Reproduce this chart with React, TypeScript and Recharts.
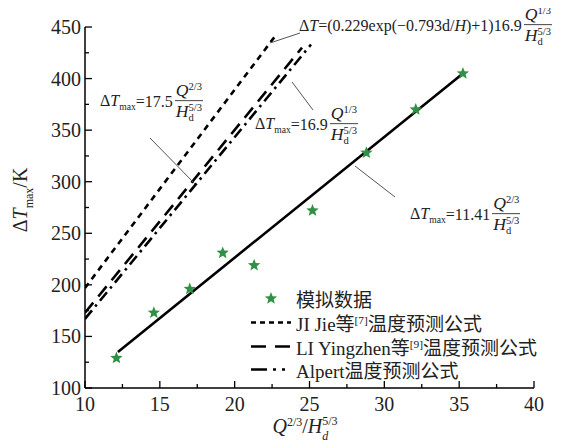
import React from 'react';
import { ComposedChart, Line, Scatter, XAxis, YAxis } from 'recharts';

// simulated points
const simX = [12.1, 14.6, 17.0, 19.2, 21.3, 25.2, 28.8, 32.1, 35.25];
const simY = [129, 173, 196, 231, 219, 272, 328, 370, 405];

// fitted line 11.41 * Q^(2/3)/Hd^(5/3)
const fitX = [12.2, 35.25];
const fitY = [135, 405];

// JI Jie
const jiX = [10, 22.8];
const jiY = [197, 443];

// LI Yingzhen
const liX = [10, 24.5];
const liY = [173, 430];

// Alpert
const alpertX = [10, 25.1];
const alpertY = [167, 433];

const xTicks = [10, 12.5, 15, 17.5, 20, 22.5, 25, 27.5, 30, 32.5, 35, 37.5, 40];
const yTicks = [100, 125, 150, 175, 200, 225, 250, 275, 300, 325, 350, 375, 400, 425, 450];

const SERIF = "'Liberation Serif', 'Times New Roman', 'Noto Sans CJK SC', serif";
const GREEN = '#2f9046';

const toRows = (xs: number[], ys: number[]) => xs.map((x, i) => ({ x, y: ys[i] }));

const starPoints = (cx: number, cy: number, ro: number, ri: number) => {
  const pts: string[] = [];
  for (let i = 0; i < 10; i++) {
    const r = i % 2 === 0 ? ro : ri;
    const a = -Math.PI / 2 + (i * Math.PI) / 5;
    pts.push(`${cx + r * Math.cos(a)},${cy + r * Math.sin(a)}`);
  }
  return pts.join(' ');
};

const Star = (props: any) => {
  const { cx, cy } = props;
  return <polygon points={starPoints(cx, cy, 6.5, 2.8)} fill={GREEN} />;
};

const XTick = (props: any) => {
  const { x, y, payload } = props;
  const major = payload.value % 5 === 0;
  return (
    <g>
      <line x1={x} y1={y} x2={x} y2={y - (major ? 7 : 4)} stroke="#000" strokeWidth={1.3} />
      {major && (
        <text x={x} y={y + 23} textAnchor="middle" fontFamily={SERIF} fontSize={20} fill="#222">
          {payload.value}
        </text>
      )}
    </g>
  );
};

const YTick = (props: any) => {
  const { x, y, payload } = props;
  const major = payload.value % 50 === 0;
  return (
    <g>
      <line x1={x} y1={y} x2={x + (major ? 7 : 4)} y2={y} stroke="#000" strokeWidth={1.3} />
      {major && (
        <text x={x - 4} y={y + 7} textAnchor="end" fontFamily={SERIF} fontSize={20} fill="#222">
          {payload.value}
        </text>
      )}
    </g>
  );
};

const Sup = ({ children }: { children: React.ReactNode }) => (
  <span style={{ fontSize: '0.6em', verticalAlign: '0.55em', lineHeight: 0 }}>{children}</span>
);

const Hd = ({ p }: { p: string }) => (
  <span style={{ whiteSpace: 'nowrap' }}>
    <i>H</i>
    <span style={{ display: 'inline-flex', flexDirection: 'column', fontSize: '0.6em', lineHeight: 1, verticalAlign: 'middle' }}>
      <span>{p}</span>
      <span>d</span>
    </span>
  </span>
);

const Frac = ({ p }: { p: string }) => (
  <span style={{ display: 'inline-flex', flexDirection: 'column', alignItems: 'center', margin: '0 2px', fontSize: '1.1em' }}>
    <span style={{ borderBottom: '1px solid #444', padding: '0 1px', lineHeight: 1.15 }}>
      <i>Q</i>
      <Sup>{p}</Sup>
    </span>
    <span style={{ lineHeight: 1.2 }}>
      <Hd p="5/3" />
    </span>
  </span>
);

const DTmax = () => (
  <span>
    Δ<i>T</i>
    <span style={{ fontSize: '0.6em', verticalAlign: '-0.45em' }}>max</span>
  </span>
);

const Formula = ({ left, top, size, children }: { left: number; top: number; size: number; children: React.ReactNode }) => (
  <div
    style={{
      position: 'absolute',
      left,
      top,
      transform: 'translateY(-50%)',
      display: 'flex',
      alignItems: 'center',
      whiteSpace: 'nowrap',
      fontFamily: SERIF,
      fontSize: size,
      color: '#222',
    }}
  >
    {children}
  </div>
);

const LegendRow = ({ top, icon, children }: { top: number; icon: React.ReactNode; children: React.ReactNode }) => (
  <div style={{ position: 'absolute', left: 242, top, transform: 'translateY(-50%)', display: 'flex', alignItems: 'center', whiteSpace: 'nowrap' }}>
    <svg width={42} height={14} style={{ marginRight: 4 }}>
      {icon}
    </svg>
    <span style={{ fontFamily: SERIF, fontSize: 19, color: '#222' }}>{children}</span>
  </div>
);

const legendLine = (dash: string) => <line x1={1} y1={7} x2={41} y2={7} stroke="#000" strokeWidth={2.6} strokeDasharray={dash} />;

export default function App() {
  return (
    <div style={{ position: 'relative', width: 561, height: 437 }}>
      <ComposedChart width={561} height={437} margin={{ top: 19, right: 35, bottom: 27, left: 0 }}>
        <XAxis
          dataKey="x"
          type="number"
          domain={[10, 40]}
          ticks={xTicks}
          interval={0}
          tickLine={false}
          tickSize={0}
          tickMargin={0}
          tick={<XTick />}
          height={30}
          axisLine={{ stroke: '#000', strokeWidth: 1.5 }}
          allowDataOverflow
        />
        <YAxis
          dataKey="y"
          type="number"
          domain={[100, 450]}
          ticks={yTicks}
          interval={0}
          tickLine={false}
          tickSize={0}
          tickMargin={0}
          tick={<YTick />}
          width={77}
          axisLine={{ stroke: '#000', strokeWidth: 1.5 }}
          allowDataOverflow
        />
        <Line data={toRows(jiX, jiY)} dataKey="y" type="linear" stroke="#000" strokeWidth={2.6} strokeDasharray="6 5" dot={false} isAnimationActive={false} />
        <Line data={toRows(liX, liY)} dataKey="y" type="linear" stroke="#000" strokeWidth={2.6} strokeDasharray="13 8" dot={false} isAnimationActive={false} />
        <Line data={toRows(alpertX, alpertY)} dataKey="y" type="linear" stroke="#000" strokeWidth={2.6} strokeDasharray="11 5 2.5 5" dot={false} isAnimationActive={false} />
        <Line data={toRows(fitX, fitY)} dataKey="y" type="linear" stroke="#000" strokeWidth={2.6} dot={false} isAnimationActive={false} />
        <Scatter data={toRows(simX, simY)} dataKey="y" shape={<Star />} isAnimationActive={false} />
      </ComposedChart>

      {/* annotations */}
      <svg width={561} height={437} style={{ position: 'absolute', left: 0, top: 0, pointerEvents: 'none' }}>
        <line x1={262} y1={35} x2={292} y2={25} stroke="#555" strokeWidth={1} />
        <line x1={142} y1={130} x2={187} y2={176} stroke="#555" strokeWidth={1} />
        <line x1={284} y1={74} x2={305} y2={102} stroke="#555" strokeWidth={1} />
        <line x1={347} y1={158} x2={387} y2={189} stroke="#555" strokeWidth={1} />
      </svg>

      <Formula left={291} top={18} size={16}>
        <span>
          Δ<i>T</i>=(0.229exp(−0.793d/<i>H</i>)+1)16.9
        </span>
        <Frac p="1/3" />
      </Formula>
      <Formula left={92} top={94} size={16}>
        <DTmax />
        <span>=17.5</span>
        <Frac p="2/3" />
      </Formula>
      <Formula left={247} top={117} size={16}>
        <DTmax />
        <span>=16.9</span>
        <Frac p="1/3" />
      </Formula>
      <Formula left={402} top={207} size={16}>
        <DTmax />
        <span>=11.41</span>
        <Frac p="2/3" />
      </Formula>

      {/* axis titles */}
      <div
        style={{
          position: 'absolute',
          left: 15,
          top: 192,
          transform: 'translate(-50%, -50%) rotate(-90deg)',
          fontFamily: SERIF,
          fontSize: 20,
          color: '#222',
          whiteSpace: 'nowrap',
        }}
      >
        <DTmax />/K
      </div>
      <div
        style={{
          position: 'absolute',
          left: 297,
          top: 420,
          transform: 'translate(-50%, -50%)',
          fontFamily: SERIF,
          fontSize: 20,
          color: '#222',
          whiteSpace: 'nowrap',
        }}
      >
        <i>Q</i>
        <Sup>2/3</Sup>/<i>H</i>
        <span style={{ display: 'inline-flex', flexDirection: 'column', fontSize: '0.6em', lineHeight: 1, gap: 3, verticalAlign: 'middle' }}>
          <span>5/3</span>
          <i>d</i>
        </span>
      </div>

      {/* legend */}
      <LegendRow top={290} icon={<polygon points={starPoints(21, 7, 6.5, 2.8)} fill={GREEN} />}>
        模拟数据
      </LegendRow>
      <LegendRow top={314} icon={legendLine('5 4')}>
        JI Jie等<Sup>[7]</Sup>温度预测公式
      </LegendRow>
      <LegendRow top={338} icon={legendLine('15 9')}>
        LI Yingzhen等<Sup>[9]</Sup>温度预测公式
      </LegendRow>
      <LegendRow top={361} icon={legendLine('16 6 3 6 3 6')}>
        Alpert温度预测公式
      </LegendRow>
    </div>
  );
}
